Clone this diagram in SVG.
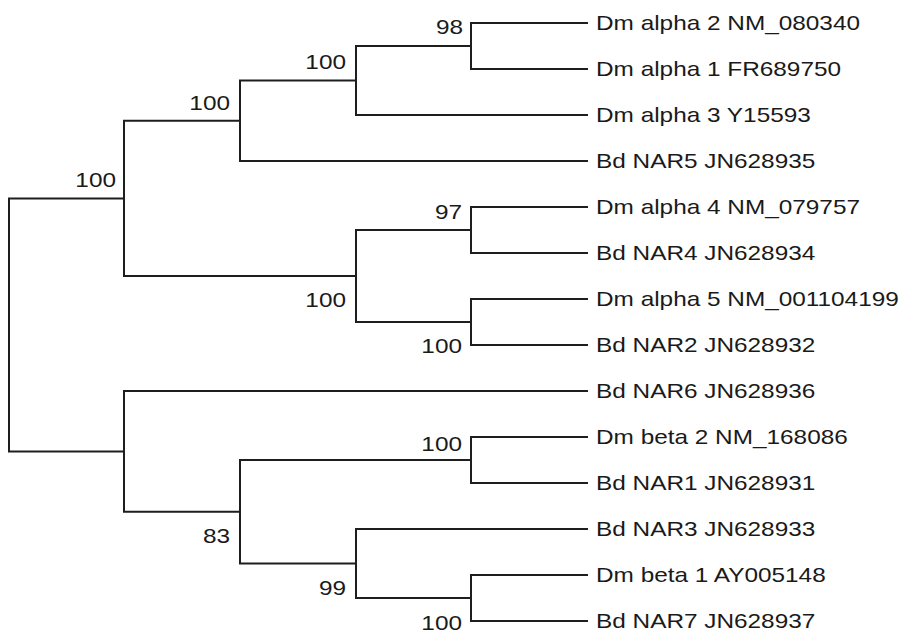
<svg xmlns="http://www.w3.org/2000/svg" width="904" height="633" viewBox="0 0 904 633">
<style>
.e{fill:none;stroke:#1e1e1e;stroke-width:2;stroke-linejoin:miter;stroke-linecap:square}
text{font-family:"Liberation Sans",Arial,sans-serif;font-size:21px;fill:#1a1a1a}
.b{text-anchor:end}
</style>
<rect width="904" height="633" fill="#ffffff"/>
<g id="connectors">
<path class="e" d="M587 23 H471 V69 H587"/>
<path class="e" d="M471 46 H356 V115 H587"/>
<path class="e" d="M356 80.5 H240 V161 H587"/>
<path class="e" d="M587 207 H471 V253 H587"/>
<path class="e" d="M587 299 H471 V345 H587"/>
<path class="e" d="M471 230 H356 V322 H471"/>
<path class="e" d="M240 120.75 H124 V276 H356"/>
<path class="e" d="M587 437 H471 V483 H587"/>
<path class="e" d="M587 575 H471 V621 H587"/>
<path class="e" d="M587 529 H356 V598 H471"/>
<path class="e" d="M471 460 H240 V563.5 H356"/>
<path class="e" d="M587 391 H124 V511.75 H240"/>
<path class="e" d="M124 198.4 H9 V451.4 H124"/>
</g>
<g id="leaf1"><text transform="matrix(1.16 0 0 1 596 29.5)">Dm alpha 2 NM_080340</text></g>
<g id="leaf2"><text transform="matrix(1.16 0 0 1 596 75.5)">Dm alpha 1 FR689750</text></g>
<g id="leaf3"><text transform="matrix(1.16 0 0 1 596 121.5)">Dm alpha 3 Y15593</text></g>
<g id="leaf4"><text transform="matrix(1.16 0 0 1 596 167.5)">Bd NAR5 JN628935</text></g>
<g id="leaf5"><text transform="matrix(1.16 0 0 1 596 213.5)">Dm alpha 4 NM_079757</text></g>
<g id="leaf6"><text transform="matrix(1.16 0 0 1 596 259.5)">Bd NAR4 JN628934</text></g>
<g id="leaf7"><text transform="matrix(1.16 0 0 1 596 305.5)">Dm alpha 5 NM_001104199</text></g>
<g id="leaf8"><text transform="matrix(1.16 0 0 1 596 351.5)">Bd NAR2 JN628932</text></g>
<g id="leaf9"><text transform="matrix(1.16 0 0 1 596 397.5)">Bd NAR6 JN628936</text></g>
<g id="leaf10"><text transform="matrix(1.16 0 0 1 596 443.5)">Dm beta 2 NM_168086</text></g>
<g id="leaf11"><text transform="matrix(1.16 0 0 1 596 489.5)">Bd NAR1 JN628931</text></g>
<g id="leaf12"><text transform="matrix(1.16 0 0 1 596 535.5)">Bd NAR3 JN628933</text></g>
<g id="leaf13"><text transform="matrix(1.16 0 0 1 596 581.5)">Dm beta 1 AY005148</text></g>
<g id="leaf14"><text transform="matrix(1.16 0 0 1 596 627.5)">Bd NAR7 JN628937</text></g>
<g id="nodeA"><text class="b" transform="matrix(1.16 0 0 1 463 34)">98</text></g>
<g id="nodeB"><text class="b" transform="matrix(1.16 0 0 1 346 69)">100</text></g>
<g id="nodeC"><text class="b" transform="matrix(1.16 0 0 1 230 110)">100</text></g>
<g id="nodeG"><text class="b" transform="matrix(1.16 0 0 1 116 187)">100</text></g>
<g id="nodeD"><text class="b" transform="matrix(1.16 0 0 1 462 219)">97</text></g>
<g id="nodeF"><text class="b" transform="matrix(1.16 0 0 1 346 307)">100</text></g>
<g id="nodeE"><text class="b" transform="matrix(1.16 0 0 1 462 353)">100</text></g>
<g id="nodeH"><text class="b" transform="matrix(1.16 0 0 1 462 451)">100</text></g>
<g id="nodeK"><text class="b" transform="matrix(1.16 0 0 1 230 543)">83</text></g>
<g id="nodeJ"><text class="b" transform="matrix(1.16 0 0 1 346 595)">99</text></g>
<g id="nodeI"><text class="b" transform="matrix(1.16 0 0 1 462 630)">100</text></g>
<g id="nodeL"></g>
<g id="root"></g>
</svg>
